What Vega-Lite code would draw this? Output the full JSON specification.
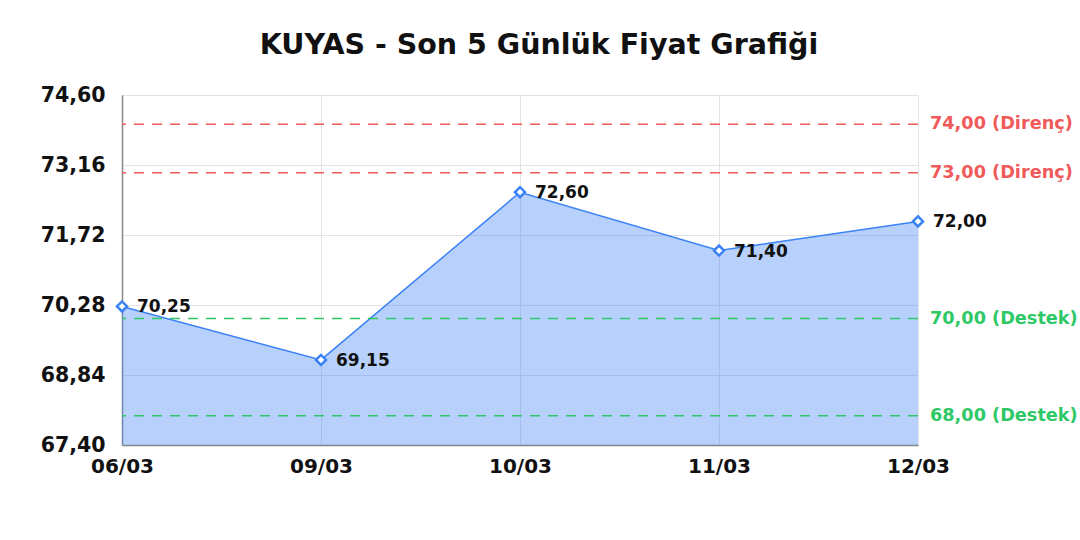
{
  "$schema": "https://vega.github.io/schema/vega-lite/v6.json",
  "width": 796,
  "height": 350,
  "autosize": {"type": "none"},
  "padding": {"left": 122, "top": 95, "right": 162, "bottom": 95},
  "background": "white",
  "title": {
    "text": "KUYAS - Son 5 Günlük Fiyat Grafiği",
    "font": "DejaVu Sans",
    "fontSize": 28.5,
    "fontWeight": "bold",
    "color": "#111111",
    "anchor": "middle",
    "dx": 19,
    "offset": 26
  },
  "config": {
    "view": {"stroke": null},
    "axis": {
      "labelFont": "DejaVu Sans",
      "labelFontWeight": "bold",
      "labelColor": "#111111",
      "gridColor": "#e3e3e3",
      "domainColor": "#888888",
      "domainWidth": 1.5,
      "ticks": false,
      "title": null
    }
  },
  "datasets": {
    "prices": [
      {"date": "06/03", "price": 70.25, "label": "70,25"},
      {"date": "09/03", "price": 69.15, "label": "69,15"},
      {"date": "10/03", "price": 72.60, "label": "72,60"},
      {"date": "11/03", "price": 71.40, "label": "71,40"},
      {"date": "12/03", "price": 72.00, "label": "72,00"}
    ],
    "levels": [
      {"date": "12/03", "level": 74.0, "kind": "Direnç", "label": "74,00 (Direnç)"},
      {"date": "12/03", "level": 73.0, "kind": "Direnç", "label": "73,00 (Direnç)"},
      {"date": "12/03", "level": 70.0, "kind": "Destek", "label": "70,00 (Destek)"},
      {"date": "12/03", "level": 68.0, "kind": "Destek", "label": "68,00 (Destek)"}
    ]
  },
  "layer": [
    {
      "data": {"name": "prices"},
      "mark": {"type": "area", "color": "#3b82f6", "opacity": 0.37, "clip": true},
      "encoding": {
        "x": {
          "field": "date", "type": "ordinal", "sort": null,
          "scale": {"type": "point", "padding": 0},
          "axis": {"labelAngle": 0, "labelFontSize": 20, "labelPadding": 11, "grid": true}
        },
        "y": {
          "field": "price", "type": "quantitative",
          "scale": {"domain": [67.4, 74.6], "nice": false, "zero": false},
          "axis": {
            "values": [67.4, 68.84, 70.28, 71.72, 73.16, 74.6],
            "labelExpr": "replace(format(datum.value, '.2f'), '.', ',')",
            "labelFontSize": 20.5,
            "labelPadding": 17,
            "grid": true
          }
        }
      }
    },
    {
      "data": {"name": "prices"},
      "mark": {"type": "line", "color": "#3b82f6", "strokeWidth": 1.5},
      "encoding": {
        "x": {"field": "date", "type": "ordinal", "sort": null},
        "y": {"field": "price", "type": "quantitative"}
      }
    },
    {
      "data": {"name": "levels"},
      "mark": {"type": "rule", "strokeDash": [10, 8], "strokeWidth": 1.5},
      "encoding": {
        "y": {"field": "level", "type": "quantitative"},
        "color": {
          "field": "kind", "type": "nominal", "legend": null,
          "scale": {"domain": ["Direnç", "Destek"], "range": ["#f05a5a", "#2ec866"]}
        }
      }
    },
    {
      "data": {"name": "levels"},
      "mark": {"type": "text", "align": "left", "baseline": "middle", "dx": 12, "font": "DejaVu Sans", "fontSize": 17.7, "fontWeight": "bold"},
      "encoding": {
        "x": {"field": "date", "type": "ordinal", "sort": null},
        "y": {"field": "level", "type": "quantitative"},
        "text": {"field": "label"},
        "color": {
          "field": "kind", "type": "nominal", "legend": null,
          "scale": {"domain": ["Direnç", "Destek"], "range": ["#ef4444", "#22c55e"]}
        }
      }
    },
    {
      "data": {"name": "prices"},
      "mark": {"type": "point", "shape": "diamond", "filled": true, "fill": "white", "stroke": "#3b82f6", "strokeWidth": 2.5, "size": 100, "opacity": 1},
      "encoding": {
        "x": {"field": "date", "type": "ordinal", "sort": null},
        "y": {"field": "price", "type": "quantitative"}
      }
    },
    {
      "data": {"name": "prices"},
      "mark": {"type": "text", "align": "left", "baseline": "middle", "dx": 15, "dy": 1, "font": "DejaVu Sans", "fontSize": 17, "fontWeight": "bold", "color": "#111111"},
      "encoding": {
        "x": {"field": "date", "type": "ordinal", "sort": null},
        "y": {"field": "price", "type": "quantitative"},
        "text": {"field": "label"}
      }
    }
  ]
}
